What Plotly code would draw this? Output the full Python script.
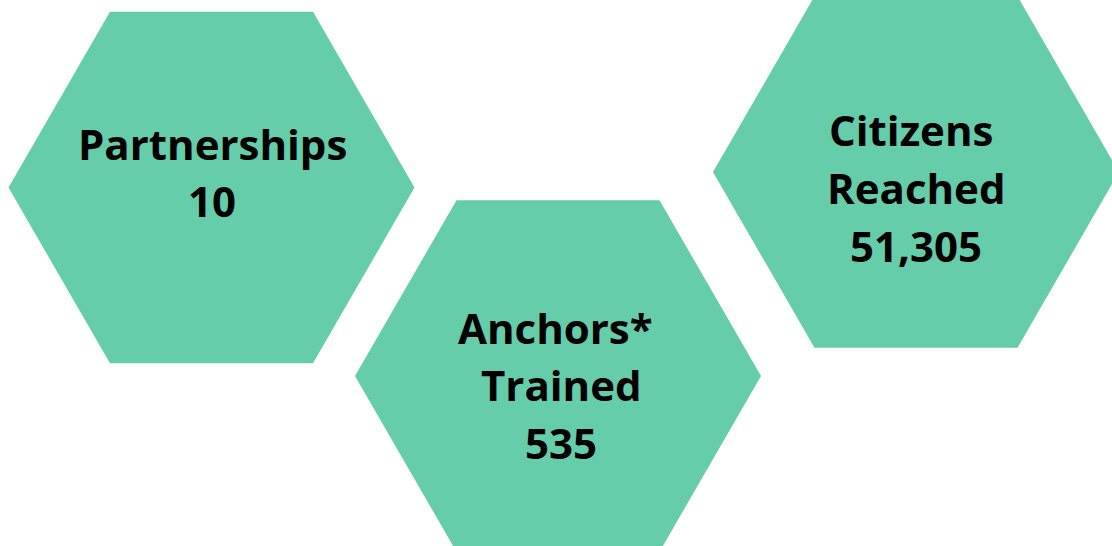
import math
import plotly.graph_objects as go

# ---- data ----
metric_labels = [["Partnerships"], ["Anchors*", " Trained"], ["Citizens", "Reached"]]
metric_values = [10, 535, 51305]

# ---- layout constants (pixels, canvas 1112x546, y downward) ----
W, H = 1112, 546
hex_centers = [(211.5, 187.5), (558.0, 376.0), (916.0, 172.0)]
hex_radius = 203.0
text_x = [[212, 212], [555.5, 561, 561], [911, 916.5, 916]]
first_baseline = [159.3, 343.3, 145.7]
line_step = 57.8
font_size = 42
fill_color = "#66CDAA"

fig = go.Figure()

for (cx, cy) in hex_centers:
    xs, ys = [], []
    for k in range(7):
        a = math.radians(60 * k)
        xs.append(cx + hex_radius * math.cos(a))
        ys.append(cy + hex_radius * math.sin(a))
    fig.add_trace(go.Scatter(x=xs, y=ys, mode="lines", fill="toself",
                             fillcolor=fill_color, line=dict(width=0, color=fill_color),
                             hoverinfo="skip", showlegend=False))

for i, (labels, val) in enumerate(zip(metric_labels, metric_values)):
    lines = labels + [f"{val:,}"]
    for j, t in enumerate(lines):
        baseline = first_baseline[i] + j * line_step
        fig.add_annotation(x=text_x[i][j], y=baseline - 0.388 * font_size,
                           xref="x", yref="y", text=t.strip(),
                           showarrow=False, xanchor="center", yanchor="middle",
                           font=dict(family="Open Sans", size=font_size, color="black", weight="bold"))

fig.update_layout(width=W, height=H, margin=dict(l=0, r=0, t=0, b=0),
                  paper_bgcolor="white", plot_bgcolor="white")
fig.update_xaxes(range=[0, W], visible=False, fixedrange=True)
fig.update_yaxes(range=[H, 0], visible=False, fixedrange=True)

fig.write_html("out.html", config={"displayModeBar": False},
               post_script="document.body.style.margin='0';")
